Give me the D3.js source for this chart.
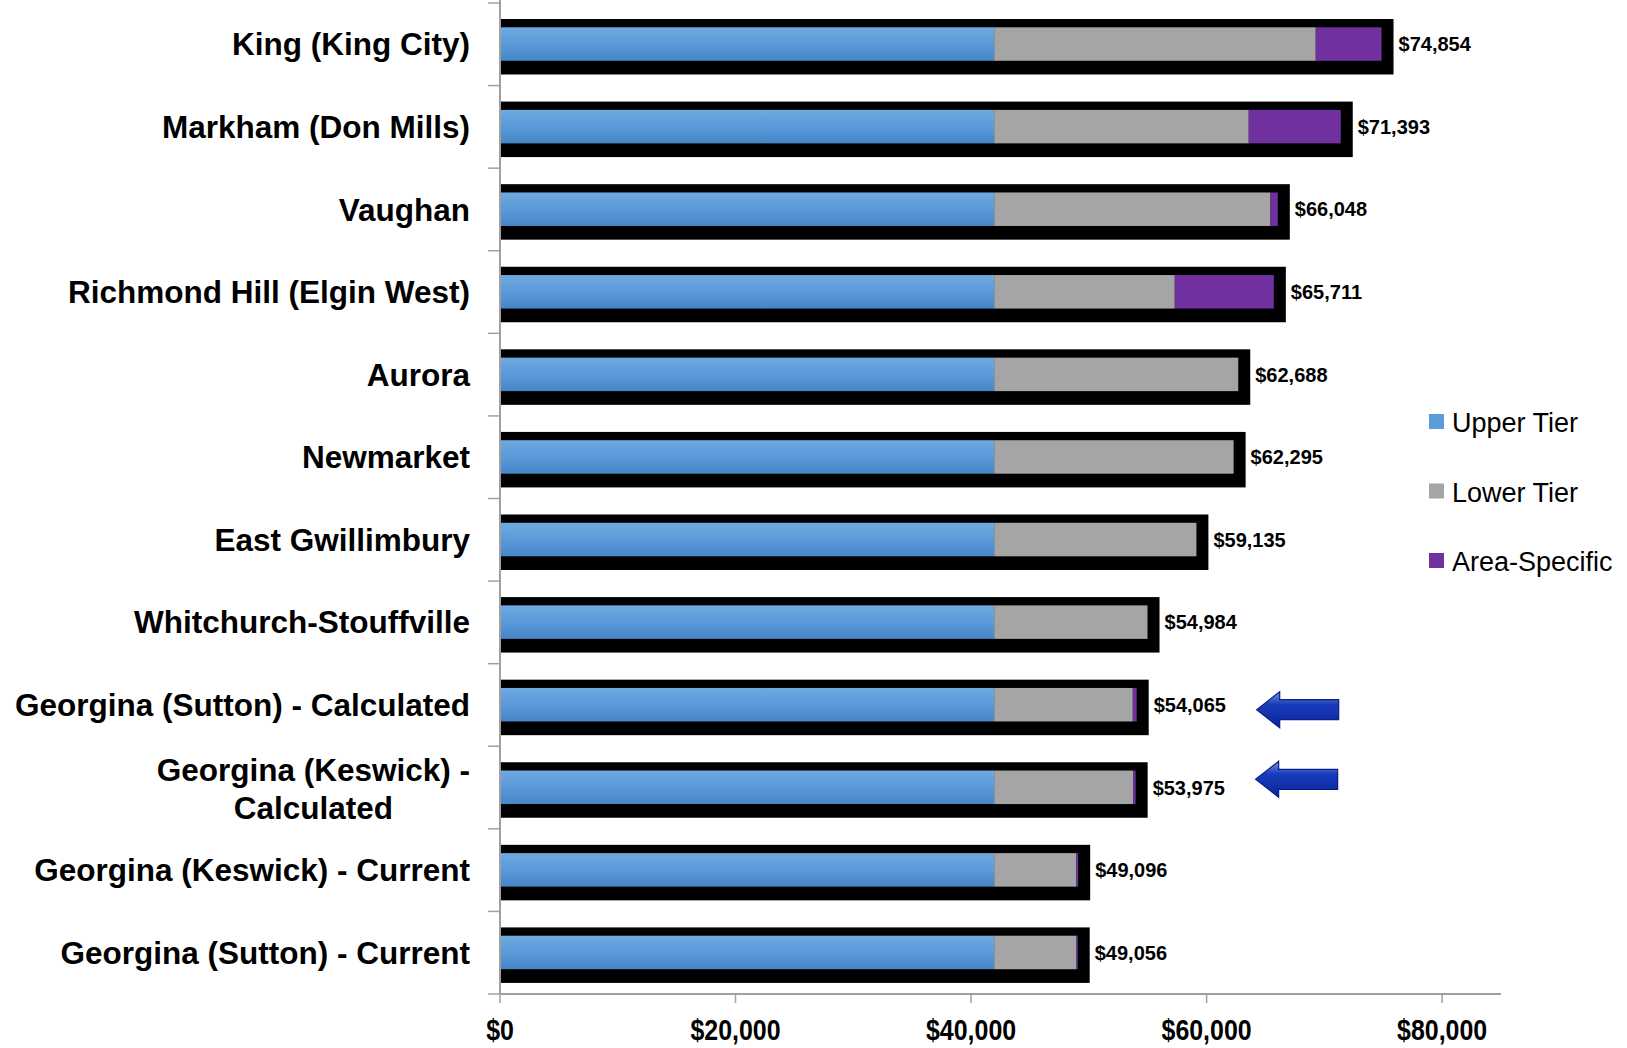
<!DOCTYPE html>
<html>
<head>
<meta charset="utf-8">
<script src="https://cdn.jsdelivr.net/npm/d3@7"></script>
<style>
  html, body { margin: 0; padding: 0; background: #fff; }
  svg { display: block; }
  text { font-family: "Liberation Sans", Arial, sans-serif; fill: #000; }
</style>
</head>
<body>
<svg id="chart" width="1627" height="1048"></svg>
<script>
// Municipalities, top to bottom
const categories = [
  "King (King City)",
  "Markham (Don Mills)",
  "Vaughan",
  "Richmond Hill (Elgin West)",
  "Aurora",
  "Newmarket",
  "East Gwillimbury",
  "Whitchurch-Stouffville",
  "Georgina (Sutton) - Calculated",
  "Georgina (Keswick) - Calculated",
  "Georgina (Keswick) - Current",
  "Georgina (Sutton) - Current"
];

// Charge components per municipality ($)
const upperTier    = [41960, 41960, 41960, 41960, 41960, 41960, 41960, 41960, 41960, 41960, 41960, 41960];
const lowerTier    = [27310, 21620, 23465, 15340, 20728, 20335, 17175, 13024, 11775, 11815, 6986, 6996];
const areaSpecific = [5584, 7813, 623, 8411, 0, 0, 0, 0, 330, 200, 150, 100];

const seriesNames = ["Upper Tier", "Lower Tier", "Area-Specific"];
const xTicks = [0, 20000, 40000, 60000, 80000];

// Rows that get a pointer arrow
const arrowRows = ["Georgina (Sutton) - Calculated", "Georgina (Keswick) - Calculated"];
const arrowDy = [5, -8];

const rows = categories.map((c, i) => ({
  name: c,
  parts: [upperTier[i], lowerTier[i], areaSpecific[i]],
  total: upperTier[i] + lowerTier[i] + areaSpecific[i]
}));

const svg = d3.select("#chart");
const defs = svg.append("defs");

const blueGrad = defs.append("linearGradient")
  .attr("id", "blueGrad").attr("x1", 0).attr("y1", 0).attr("x2", 0).attr("y2", 1);
blueGrad.append("stop").attr("offset", "0%").attr("stop-color", "#6fa9e0");
blueGrad.append("stop").attr("offset", "50%").attr("stop-color", "#5a9ad9");
blueGrad.append("stop").attr("offset", "100%").attr("stop-color", "#4686c8");

const arrowGrad = defs.append("linearGradient")
  .attr("id", "arrowGrad").attr("x1", 0).attr("y1", 0).attr("x2", 0).attr("y2", 1);
arrowGrad.append("stop").attr("offset", "0%").attr("stop-color", "#7d93dc");
arrowGrad.append("stop").attr("offset", "35%").attr("stop-color", "#1a3cbc");
arrowGrad.append("stop").attr("offset", "100%").attr("stop-color", "#0a2498");

const colors = ["url(#blueGrad)", "#a5a5a5", "#7030a0"];
const legendColors = ["#5b9bd8", "#a5a5a5", "#7030a0"];

const x = d3.scaleLinear().domain([0, 85000]).range([500, 1501]);
const y = d3.scaleBand().domain(categories).range([3, 994]).paddingInner(0).paddingOuter(0);

const outlinePad = 12;   // black frame reaches a little past the stack end
const frameTop = 16, frameH = 55.5;
const barTop = 24.3, barH = 33.5;

// Black frame behind each stack
svg.append("g").selectAll("rect")
  .data(rows).join("rect")
  .attr("x", x(0))
  .attr("y", d => y(d.name) + frameTop)
  .attr("width", d => x(d.total) - x(0) + outlinePad)
  .attr("height", frameH)
  .attr("fill", "#000");

// Stacked segments
const stack = d3.stack().keys([0, 1, 2]).value((d, k) => d.parts[k]);
const layers = stack(rows);
svg.append("g").selectAll("g")
  .data(layers).join("g")
  .attr("fill", (d, i) => colors[i])
  .selectAll("rect")
  .data(d => d.filter(s => s[1] > s[0]))
  .join("rect")
  .attr("x", s => x(s[0]))
  .attr("y", s => y(s.data.name) + barTop)
  .attr("width", s => x(s[1]) - x(s[0]))
  .attr("height", barH);

// Total labels
const fmt = d3.format("$,.0f");
svg.append("g").selectAll("text")
  .data(rows).join("text")
  .attr("x", d => x(d.total) + outlinePad + 5)
  .attr("y", d => y(d.name) + barTop + barH / 2)
  .attr("dy", "0.36em")
  .attr("font-size", 20)
  .attr("font-weight", "bold")
  .text(d => fmt(d.total));

// Category axis
const axisColor = "#a0a0a0";
const yAxis = svg.append("g");
yAxis.append("line")
  .attr("x1", x(0)).attr("x2", x(0))
  .attr("y1", 0).attr("y2", 994)
  .attr("stroke", axisColor).attr("stroke-width", 2);
const bounds = categories.map(c => y(c)).concat([994]);
yAxis.selectAll("line.tick")
  .data(bounds).join("line").attr("class", "tick")
  .attr("x1", x(0) - 12).attr("x2", x(0))
  .attr("y1", d => d).attr("y2", d => d)
  .attr("stroke", axisColor).attr("stroke-width", 1.5);

// Category labels (the long Keswick label wraps to two centred lines)
const labelX = 470;
const catLabels = svg.append("g").attr("font-size", 31.5).attr("font-weight", "bold");
rows.forEach(r => {
  const cy = y(r.name) + barTop + barH / 2;
  if (r.name === "Georgina (Keswick) - Calculated") {
    const t1 = catLabels.append("text")
      .attr("x", labelX).attr("y", cy - 18).attr("dy", "0.36em")
      .attr("text-anchor", "end").text("Georgina (Keswick) -");
    const w = t1.node().getComputedTextLength();
    catLabels.append("text")
      .attr("x", labelX - w / 2).attr("y", cy + 20).attr("dy", "0.36em")
      .attr("text-anchor", "middle").text("Calculated");
  } else {
    catLabels.append("text")
      .attr("x", labelX).attr("y", cy).attr("dy", "0.36em")
      .attr("text-anchor", "end").text(r.name);
  }
});

// Value axis
const xAxisG = svg.append("g").attr("transform", "translate(0,994)");
xAxisG.append("line")
  .attr("x1", x(0)).attr("x2", x(85000))
  .attr("y1", 0).attr("y2", 0)
  .attr("stroke", axisColor).attr("stroke-width", 2);
xAxisG.selectAll("line.tick")
  .data(xTicks).join("line").attr("class", "tick")
  .attr("x1", d => x(d)).attr("x2", d => x(d))
  .attr("y1", 0).attr("y2", 9)
  .attr("stroke", axisColor).attr("stroke-width", 1.5);
// condensed bold tick labels
xAxisG.selectAll("text")
  .data(xTicks).join("text")
  .attr("transform", d => `translate(${x(d)},46) scale(0.86,1)`)
  .attr("text-anchor", "middle")
  .attr("font-size", 29)
  .attr("font-weight", "bold")
  .text(d => fmt(d));

// Legend
const legend = svg.append("g");
seriesNames.forEach((n, i) => {
  const ly = 421.5 + i * 69.5;
  legend.append("rect")
    .attr("x", 1429).attr("y", ly - 7.5)
    .attr("width", 15).attr("height", 15)
    .attr("fill", legendColors[i]);
  legend.append("text")
    .attr("x", 1452).attr("y", ly + 1).attr("dy", "0.36em")
    .attr("font-size", 27)
    .text(n);
});

// Pointer arrows next to the calculated Georgina rows
const arrows = svg.append("g");
arrowRows.forEach((name, i) => {
  const row = rows.find(r => r.name === name);
  const tipX = x(row.total) + 120;
  const cy = y(name) + barTop + barH / 2 + arrowDy[i];
  const headLen = 23, headHalf = 18, shaftHalf = 10, len = 82;
  const pts = [
    [tipX, cy],
    [tipX + headLen, cy - headHalf],
    [tipX + headLen, cy - shaftHalf],
    [tipX + len, cy - shaftHalf],
    [tipX + len, cy + shaftHalf],
    [tipX + headLen, cy + shaftHalf],
    [tipX + headLen, cy + headHalf]
  ];
  arrows.append("path")
    .attr("d", d3.line()(pts) + "Z")
    .attr("fill", "url(#arrowGrad)")
    .attr("stroke", "#0a1f8a")
    .attr("stroke-width", 1.2)
    .attr("stroke-linejoin", "miter");
});
</script>
</body>
</html>
